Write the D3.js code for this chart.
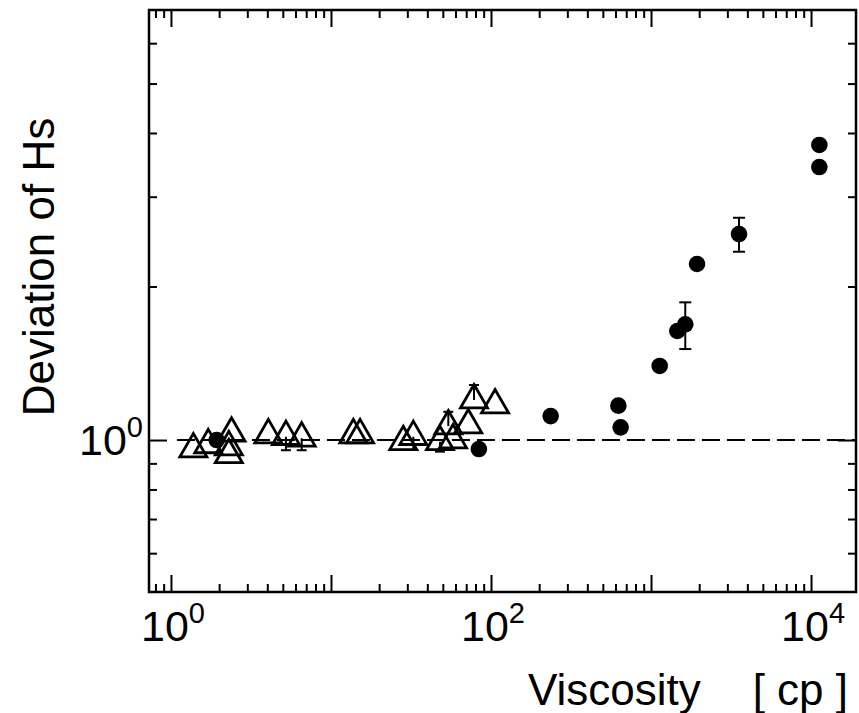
<!DOCTYPE html>
<html>
<head>
<meta charset="utf-8">
<script src="https://cdn.jsdelivr.net/npm/d3@7"></script>
<style>
  html, body { margin: 0; padding: 0; background: #fff; }
  svg { display: block; }
  text { font-family: "Liberation Sans", Arial, Helvetica, sans-serif; fill: #000; }
</style>
</head>
<body>
<svg id="chart" width="859" height="713"></svg>
<script>
// ---- data ----
const circleVisc = [1.93, 84, 236, 625, 646, 1133, 1460, 1637, 1939, 3548, 11270, 11270];
const circleDev  = [1.00, 0.960, 1.114, 1.168, 1.059, 1.397, 1.636, 1.686, 2.214, 2.535, 3.79, 3.43];
const circleErrLo = [null, null, null, null, null, null, null, 1.508, null, 2.34, null, null];
const circleErrHi = [null, null, null, null, null, null, null, 1.862, null, 2.728, null, null];

const triVisc = [1.38, 1.71, 2.39, 2.30, 2.30, 4.06, 5.23, 6.56, 13.8, 15.2, 28.3, 32.7, 48.0, 57.9, 54.1, 72.1, 78.3, 106];
const triDev  = [0.960, 0.978, 1.031, 0.969, 0.935, 1.023, 1.015, 1.008, 1.023, 1.023, 0.992, 1.015, 0.992, 1.000, 1.065, 1.070, 1.198, 1.171];
const triErrLo = [null, null, null, null, null, null, 0.955, 0.955, null, null, null, 0.956, 0.949, null, null, null, null, null];
const triErrHi = [null, null, null, null, null, null, null, null, null, null, null, null, null, null, 1.136, null, 1.282, null];

const refLine = [1.09, 19100];   // viscosity extent of dashed line
const refValue = 1;

const xMajorTicks = [1, 10, 100, 1000, 10000];
const xLabelTicks = [1, 100, 10000];
const xLabelExp = ["0", "2", "4"];
const yMajorTicks = [1];
const yLabelExp = ["0"];
const yMinorTicks = [0.6, 0.7, 0.8, 0.9, 2, 3, 4, 5, 6];

const xTitle = "Viscosity";
const xUnit = "[ cp ]";
const yTitle = "Deviation of Hs";

// ---- layout ----
const L = 149, R = 856, T = 10, B = 592;
const svg = d3.select("#chart");

const x = d3.scaleLog().domain([0.729, 19100]).range([L, R]);
const y = d3.scaleLog().domain([0.5035, 6.97]).range([B, T]);

const xMinorTicks = [];
[0.1, 1, 10, 100, 1000, 10000].forEach(d => {
  for (let k = 2; k <= 9; k++) {
    const v = d * k;
    if (v >= x.domain()[0] && v <= x.domain()[1]) xMinorTicks.push(v);
  }
});

function styleAxis(g) {
  g.select(".domain").remove();
  g.selectAll(".tick line").attr("stroke", "#000").attr("stroke-width", 2);
  g.selectAll(".tick text").remove();
}

// axes with inward ticks on all four sides
svg.append("g").attr("transform", `translate(0,${B})`)
  .call(d3.axisBottom(x).tickValues(xMajorTicks).tickSize(-17).tickFormat("")).call(styleAxis);
svg.append("g").attr("transform", `translate(0,${B})`)
  .call(d3.axisBottom(x).tickValues(xMinorTicks).tickSize(-8).tickFormat("")).call(styleAxis);
svg.append("g").attr("transform", `translate(0,${T})`)
  .call(d3.axisTop(x).tickValues(xMajorTicks).tickSize(-17).tickFormat("")).call(styleAxis);
svg.append("g").attr("transform", `translate(0,${T})`)
  .call(d3.axisTop(x).tickValues(xMinorTicks).tickSize(-8).tickFormat("")).call(styleAxis);

svg.append("g").attr("transform", `translate(${L},0)`)
  .call(d3.axisLeft(y).tickValues(yMajorTicks).tickSize(-18).tickFormat("")).call(styleAxis);
svg.append("g").attr("transform", `translate(${L},0)`)
  .call(d3.axisLeft(y).tickValues(yMinorTicks).tickSize(-8).tickFormat("")).call(styleAxis);
svg.append("g").attr("transform", `translate(${R},0)`)
  .call(d3.axisRight(y).tickValues(yMajorTicks).tickSize(-18).tickFormat("")).call(styleAxis);
svg.append("g").attr("transform", `translate(${R},0)`)
  .call(d3.axisRight(y).tickValues(yMinorTicks).tickSize(-8).tickFormat("")).call(styleAxis);

// frame
svg.append("rect").attr("x", L).attr("y", T).attr("width", R - L).attr("height", B - T)
  .attr("fill", "none").attr("stroke", "#000").attr("stroke-width", 2.5);

// dashed reference line
svg.append("line")
  .attr("x1", x(refLine[0])).attr("x2", x(refLine[1]))
  .attr("y1", y(refValue)).attr("y2", y(refValue))
  .attr("stroke", "#000").attr("stroke-width", 2).attr("stroke-dasharray", "18,7");

// tick labels
const xl = svg.append("g");
xLabelTicks.forEach((v, i) => {
  const t = xl.append("text").attr("x", x(v) + 2).attr("y", 641)
    .attr("text-anchor", "middle").attr("font-size", 43);
  t.append("tspan").text("10");
  t.append("tspan").attr("font-size", 29).attr("dy", -18).text(xLabelExp[i]);
});
yMajorTicks.forEach((v, i) => {
  const t = svg.append("text").attr("x", 143).attr("y", y(v) + 15)
    .attr("text-anchor", "end").attr("font-size", 43);
  t.append("tspan").text("10");
  t.append("tspan").attr("font-size", 29).attr("dy", -18).text(yLabelExp[i]);
});

// axis titles
svg.append("text").attr("x", 528).attr("y", 705).attr("font-size", 44).text(xTitle);
svg.append("text").attr("x", 848).attr("y", 705).attr("text-anchor", "end").attr("font-size", 44).text(xUnit);
svg.append("text").attr("transform", `translate(54,267) rotate(-90)`)
  .attr("text-anchor", "middle").attr("font-size", 44).text(yTitle);

// error bars
function errorBars(visc, dev, lo, hi, cap) {
  const g = svg.append("g").attr("stroke", "#000").attr("stroke-width", 2);
  visc.forEach((v, i) => {
    const cx = x(v);
    const yc = y(dev[i]);
    [hi[i], lo[i]].forEach(b => {
      if (b == null) return;
      g.append("line").attr("x1", cx).attr("x2", cx).attr("y1", yc).attr("y2", y(b));
      g.append("line").attr("x1", cx - cap).attr("x2", cx + cap).attr("y1", y(b)).attr("y2", y(b));
    });
  });
}
errorBars(triVisc, triDev, triErrLo, triErrHi, 5);
errorBars(circleVisc, circleDev, circleErrLo, circleErrHi, 6);

// open triangles
const side = 27;
const triPath = d3.symbol().type(d3.symbolTriangle).size(Math.sqrt(3) / 4 * side * side)();
svg.append("g").selectAll("path").data(triVisc).join("path")
  .attr("d", triPath)
  .attr("transform", (d, i) => `translate(${x(d)},${y(triDev[i])})`)
  .attr("fill", "none").attr("stroke", "#000").attr("stroke-width", 2.8)
  .attr("stroke-linejoin", "miter");

// filled circles
svg.append("g").selectAll("circle").data(circleVisc).join("circle")
  .attr("cx", d => x(d)).attr("cy", (d, i) => y(circleDev[i])).attr("r", 8.3)
  .attr("fill", "#000");
</script>
</body>
</html>
